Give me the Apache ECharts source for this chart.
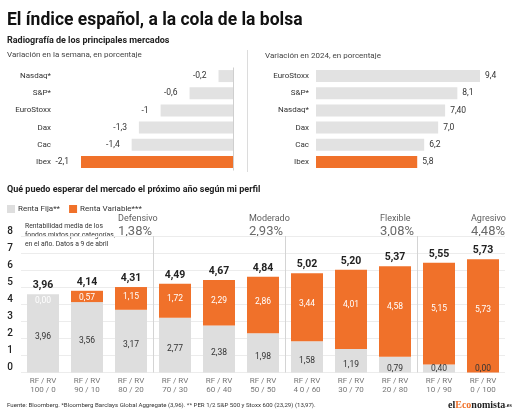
<!DOCTYPE html>
<html><head><meta charset="utf-8">
<script src="https://cdn.jsdelivr.net/npm/echarts@6/dist/echarts.min.js"></script>
<style>html,body{margin:0;padding:0;background:#fff}#c{width:522px;height:410px}</style>
</head><body><div id="c"></div>
<script>
const weekCategories = ['Nasdaq*', 'S&P*', 'EuroStoxx', 'Dax', 'Cac', 'Ibex'];
const weekValues = [-0.2, -0.6, -1, -1.3, -1.4, -2.1];
const weekLabels = ['-0,2', '-0,6', '-1', '-1,3', '-1,4', '-2,1'];

const yearCategories = ['EuroStoxx', 'S&P*', 'Nasdaq*', 'Dax', 'Cac', 'Ibex'];
const yearValues = [9.4, 8.1, 7.40, 7.0, 6.2, 5.8];
const yearLabels = ['9,4', '8,1', '7,40', '7,0', '6,2', '5,8'];

const profileCategories = ['RF / RV\n100 / 0', 'RF / RV\n90 / 10', 'RF / RV\n80 / 20', 'RF / RV\n70 / 30',
  'RF / RV\n60 / 40', 'RF / RV\n50 / 50', 'RF / RV\n4 0 / 60', 'RF / RV\n30 / 70', 'RF / RV\n20 / 80',
  'RF / RV\n10 / 90', 'RF / RV\n0 / 100'];
const rentaFija = [3.96, 3.56, 3.17, 2.77, 2.38, 1.98, 1.58, 1.19, 0.79, 0.40, 0.00];
const rentaVariable = [0.00, 0.57, 1.15, 1.72, 2.29, 2.86, 3.44, 4.01, 4.58, 5.15, 5.73];
const totals = [3.96, 4.14, 4.31, 4.49, 4.67, 4.84, 5.02, 5.20, 5.37, 5.55, 5.73];
const groupNames = ['Defensivo', 'Moderado', 'Flexible', 'Agresivo'];
const groupReturns = ['1,38%', '2,93%', '3,08%', '4,48%'];
const groupStarts = [3, 6, 9];
const seriesNames = ['Renta Fija**', 'Renta Variable***'];

const ORANGE = '#f0712a';
const GREY = '#e2e2e2';
const FONT = 'Roboto';
const fmt = v => v.toFixed(2).replace('.', ',');

const chart = echarts.init(document.getElementById('c'), null, {renderer: 'canvas'});

function txt(x, y, text, font, fill, align) {
  return {type: 'text', x: x, y: y, silent: true,
    style: {text: text, font: font, fill: fill, textAlign: align || 'left', textVerticalAlign: 'middle'}};
}

const groupX = [118, 249, 380, 471];
const graphics = [
  txt(7, 21, 'El índice español, a la cola de la bolsa', 'bold 17.5px ' + FONT, '#111'),
  txt(7, 41, 'Radiografía de los principales mercados', 'bold 9px ' + FONT, '#222'),
  txt(7, 55, 'Variación en la semana, en porcentaje', '8px ' + FONT, '#444'),
  txt(265, 56, 'Variación en 2024, en porcentaje', '8px ' + FONT, '#444'),
  {type: 'line', silent: true, shape: {x1: 247.5, y1: 50, x2: 247.5, y2: 172}, style: {stroke: '#dcdcdc', lineWidth: 1}},
  txt(7, 190, 'Qué puedo esperar del mercado el próximo año según mi perfil', 'bold 9px ' + FONT, '#222'),
  {type: 'text', x: 25, y: 222, silent: true,
    style: {text: 'Rentabilidad media de los\nfondos mixtos por categorías,\nen el año. Datos a 9 de abril',
      font: '6.8px ' + FONT, fill: '#333', lineHeight: 9, textVerticalAlign: 'top'}},
  txt(7, 405, 'Fuente: Bloomberg. *Bloomberg Barclays Global Aggregate (3,96). ** PER 1/2 S&P 500 y Stoxx 600 (23,29) (13,97).', '6.1px ' + FONT, '#333'),
  {type: 'text', x: 448, y: 405, silent: true,
    style: {text: '{a|el}{b|Eco}{a|nomista}{c|.es}', textVerticalAlign: 'middle',
      rich: {a: {font: 'bold 10px "Liberation Serif"', fill: '#222'},
             b: {font: 'bold 10px "Liberation Serif"', fill: ORANGE},
             c: {font: 'bold 6px "Liberation Serif"', fill: '#222'}}}}
];
groupNames.forEach((g, i) => {
  graphics.push(txt(groupX[i], 219, g, '9px ' + FONT, '#5e5e5e'));
  graphics.push(txt(groupX[i], 232, groupReturns[i], '13px ' + FONT, '#6a6a6a'));
});

const option = {
  animation: false,
  textStyle: {fontFamily: FONT},
  graphic: graphics,
  legend: {
    left: 2, top: 200, itemWidth: 8, itemHeight: 8, icon: 'rect', itemGap: 9,
    textStyle: {fontSize: 8, color: '#333', padding: [0, 0, 0, -2]},
    data: seriesNames
  },
  grid: [
    {left: 81, width: 152, top: 67.5, height: 103},
    {left: 316, width: 174.5, top: 67.5, height: 103},
    {left: 21, right: 17, top: 236, bottom: 37.5}
  ],
  xAxis: [
    {gridIndex: 0, type: 'value', min: -2.1, max: 0, show: false},
    {gridIndex: 1, type: 'value', min: 0, max: 10, show: false},
    {gridIndex: 2, type: 'category', data: profileCategories,
      axisLine: {show: false}, axisTick: {show: false},
      axisLabel: {fontSize: 8, color: '#777', lineHeight: 9, margin: 4},
      splitLine: {show: true, showMinLine: true, showMaxLine: false,
        interval: (idx) => groupStarts.indexOf(idx) >= 0,
        lineStyle: {color: '#d4d4d4', width: 1}}}
  ],
  yAxis: [
    {gridIndex: 0, type: 'category', data: weekCategories, inverse: true,
      axisLine: {show: false, onZero: false}, axisTick: {show: false},
      axisLabel: {fontSize: 8, color: '#333', margin: 30}},
    {gridIndex: 1, type: 'category', data: yearCategories, inverse: true,
      axisLine: {show: false, onZero: false}, axisTick: {show: false},
      axisLabel: {fontSize: 8, color: '#333', margin: 7}},
    {gridIndex: 2, type: 'value', min: 0, max: 8, interval: 1,
      axisLine: {show: false}, axisTick: {show: false},
      axisLabel: {fontSize: 10, color: '#222', fontWeight: 500, margin: 8, verticalAlign: 'bottom', lineHeight: 10},
      splitLine: {lineStyle: {color: '#ececec'}}},
    {gridIndex: 2, type: 'value', min: 0, max: 6.9, show: false, splitLine: {show: false}}
  ],
  series: [
    {type: 'bar', xAxisIndex: 0, yAxisIndex: 0, data: weekValues, barWidth: 12,
      itemStyle: {color: p => p.name === 'Ibex' ? ORANGE : GREY},
      label: {show: true, position: 'left', distance: 12, fontSize: 8.5, color: '#333',
        formatter: p => weekLabels[p.dataIndex]},
      markLine: {silent: true, symbol: 'none', label: {show: false},
        lineStyle: {color: '#cfcfcf', type: 'solid', width: 1}, data: [{xAxis: 0}]}},
    {type: 'bar', xAxisIndex: 1, yAxisIndex: 1, data: yearValues, barWidth: 12,
      itemStyle: {color: p => p.name === 'Ibex' ? ORANGE : GREY},
      label: {show: true, position: 'right', distance: 5, fontSize: 8.5, color: '#333',
        formatter: p => yearLabels[p.dataIndex]}},
    {type: 'bar', name: seriesNames[0], xAxisIndex: 2, yAxisIndex: 3, stack: 'p', data: rentaFija,
      barWidth: 32, barGap: '-100%', itemStyle: {color: '#dedede'},
      label: {show: true, position: 'inside', fontSize: 8.5, color: '#333', formatter: p => fmt(p.value)},
      labelLayout: function (p) {
        const r = p.rect;
        const base = r.y + r.height;
        return {x: r.x + r.width / 2, y: Math.min(r.y + r.height / 2 + 4, base - 4), align: 'center', verticalAlign: 'middle'};
      }},
    {type: 'bar', name: seriesNames[1], xAxisIndex: 2, yAxisIndex: 3, stack: 'p', data: rentaVariable,
      barWidth: 32, barGap: '-100%', itemStyle: {color: ORANGE},
      label: {show: true, position: 'inside', fontSize: 8.5, color: '#fff', formatter: p => fmt(p.value)},
      labelLayout: function (p) {
        const r = p.rect;
        return {x: r.x + r.width / 2, y: r.y + Math.max(r.height * 0.45, 7), align: 'center', verticalAlign: 'middle'};
      }},
    {type: 'bar', name: 'total', xAxisIndex: 2, yAxisIndex: 3, data: totals, silent: true,
      barWidth: 32, barGap: '-100%', itemStyle: {color: 'rgba(0,0,0,0)'},
      label: {show: true, position: 'top', distance: 3, fontSize: 10.5, fontWeight: 'bold', color: '#222',
        formatter: p => fmt(p.value)}}
  ]
};
chart.setOption(option);
</script>
</body></html>
